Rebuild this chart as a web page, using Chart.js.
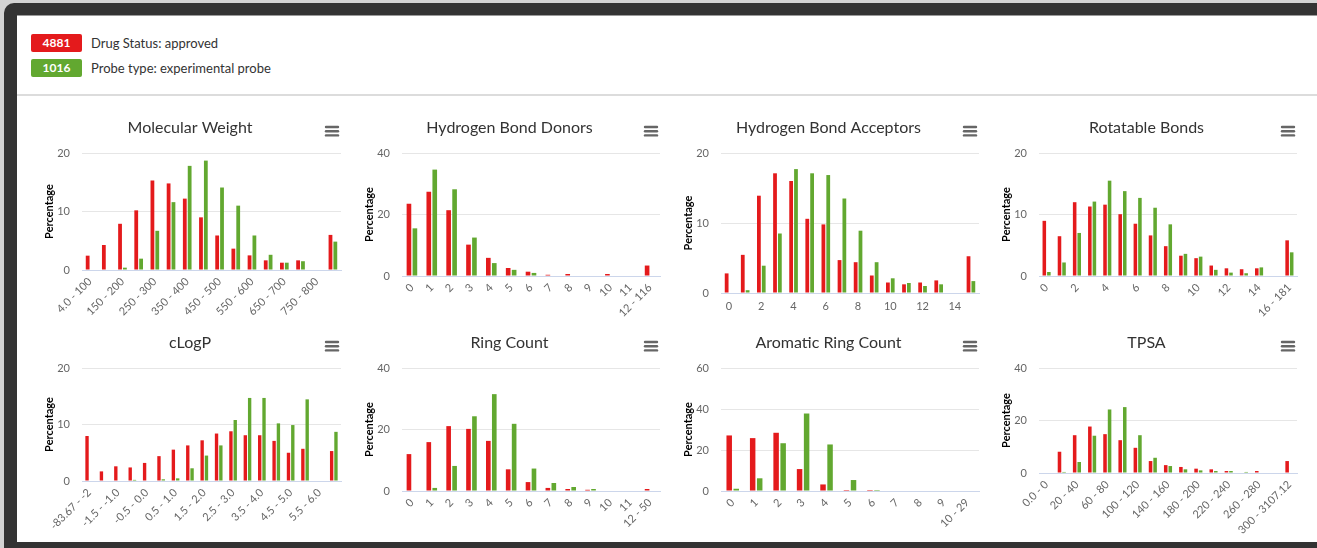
<!DOCTYPE html>
<html>
<head>
<meta charset="utf-8">
<title>Compound property distributions</title>
<script src="https://cdn.jsdelivr.net/npm/chart.js@4.4.0/dist/chart.umd.min.js"></script>
<style>
  html, body { margin: 0; padding: 0; width: 1317px; height: 548px; overflow: hidden; background: #d3d3d3; font-family: Lato, "Noto Sans", sans-serif; }
  #frame { position: absolute; left: 4px; top: 3px; width: 1330px; height: 560px; background: #333; border-radius: 10px 0 0 0; }
  #panel { position: absolute; left: 17px; top: 16px; width: 1300px; height: 526px; background: #fff; }
  #panelEdge { position: absolute; left: 17px; top: 15px; width: 1300px; height: 1px; background: #9a9a9a; }
  .badge { position: absolute; left: 31px; width: 51px; height: 18px; border-radius: 2px; color: #fff; font-size: 12px; font-weight: bold; text-align: center; line-height: 18px; }
  .legendText { position: absolute; left: 91px; font-size: 13px; color: #333; line-height: 18px; white-space: nowrap; }
  #rule { position: absolute; left: 17px; top: 94px; width: 1300px; height: 2px; background: #dcdcdc; }
  .chartBox { position: absolute; }
  .chartBox canvas { display: block; }
</style>
</head>
<body>
<div id="frame"></div>
<div id="panelEdge"></div>
<div id="panel"></div>

<div class="badge" id="badgeApproved" style="top:34px"></div>
<div class="legendText" id="textApproved" style="top:34px"></div>
<div class="badge" id="badgeProbe" style="top:59px"></div>
<div class="legendText" id="textProbe" style="top:59px"></div>
<div id="rule"></div>

<script>
// ---- series ----
const seriesNames = ['Drug Status: approved', 'Probe type: experimental probe'];
const seriesCounts = [4881, 1016];
const seriesColors = ['#e41a1c', '#62a830'];

// ---- Molecular Weight ----
const mwCategories = ['4.0 - 100','100 - 150','150 - 200','200 - 250','250 - 300','300 - 350','350 - 400','400 - 450','450 - 500','500 - 550','550 - 600','600 - 650','650 - 700','700 - 750','750 - 800','800+'];
const mwApproved = [2.45, 4.27, 7.9, 10.2, 15.3, 14.8, 12.2, 9.0, 5.9, 3.65, 2.5, 1.65, 1.25, 1.65, 0, 6.0];
const mwProbe    = [0, 0, 0.4, 1.94, 6.7, 11.6, 17.8, 18.7, 14.1, 11.0, 5.9, 2.6, 1.25, 1.5, 0, 4.85];

// ---- Hydrogen Bond Donors ----
const hbdCategories = ['0','1','2','3','4','5','6','7','8','9','10','11','12 - 116'];
const hbdApproved = [23.5, 27.4, 21.4, 10.2, 5.9, 2.6, 1.4, 0.4, 0.65, 0, 0.65, 0, 3.4];
const hbdProbe    = [15.5, 34.6, 28.2, 12.5, 4.2, 2.0, 1.0, 0, 0, 0, 0, 0, 0];

// ---- Hydrogen Bond Acceptors ----
const hbaCategories = ['0','1','2','3','4','5','6','7','8','9','10','11','12','13','14','15+'];
const hbaApproved = [2.8, 5.45, 13.9, 17.1, 16.0, 10.6, 9.8, 4.7, 4.4, 2.5, 1.5, 1.24, 1.5, 1.8, 0, 5.25];
const hbaProbe    = [0, 0.4, 3.9, 8.5, 17.7, 17.1, 16.85, 13.5, 8.9, 4.4, 2.1, 1.43, 1.0, 1.24, 0, 1.7];

// ---- Rotatable Bonds ----
const rbCategories = ['0','1','2','3','4','5','6','7','8','9','10','11','12','13','14','15','16 - 181'];
const rbApproved = [8.97, 6.47, 12.0, 11.3, 11.6, 10.05, 8.5, 6.6, 4.85, 3.3, 2.9, 1.7, 1.25, 1.1, 1.25, 0, 5.8];
const rbProbe    = [0.65, 2.2, 7.0, 12.1, 15.5, 13.8, 12.7, 11.1, 8.4, 3.6, 3.15, 1.0, 0.55, 0.45, 1.4, 0, 3.85];

// ---- cLogP ----
const clogpCategories = ['-83.67 - -2','-2.0 - -1.5','-1.5 - -1.0','-1.0 - -0.5','-0.5 - 0.0','0.0 - 0.5','0.5 - 1.0','1.0 - 1.5','1.5 - 2.0','2.0 - 2.5','2.5 - 3.0','3.0 - 3.5','3.5 - 4.0','4.0 - 4.5','4.5 - 5.0','5.0 - 5.5','5.5 - 6.0','6.0+'];
const clogpApproved = [7.96, 1.7, 2.6, 2.4, 3.2, 4.4, 5.55, 6.3, 7.2, 8.4, 8.8, 8.1, 8.1, 7.1, 5.0, 5.7, 0, 5.3];
const clogpProbe    = [0, 0, 0, 0.2, 0, 0.3, 0.47, 2.25, 4.5, 6.3, 10.8, 14.7, 14.7, 10.2, 9.9, 14.45, 0, 8.7];

// ---- Ring Count ----
const ringCategories = ['0','1','2','3','4','5','6','7','8','9','10','11','12 - 50'];
const ringApproved = [12.0, 15.9, 21.1, 20.2, 16.3, 7.05, 2.9, 1.0, 0.65, 0.4, 0, 0, 0.65];
const ringProbe    = [0, 1.0, 8.15, 24.3, 31.5, 21.85, 7.3, 2.6, 1.3, 0.65, 0, 0, 0];

// ---- Aromatic Ring Count ----
const aromCategories = ['0','1','2','3','4','5','6','7','8','9','10 - 29'];
const aromApproved = [27.1, 25.8, 28.4, 10.7, 3.2, 0.5, 0.5, 0, 0, 0, 0];
const aromProbe    = [1.1, 6.2, 23.3, 37.8, 22.7, 5.35, 0.5, 0, 0, 0, 0];

// ---- TPSA ----
const tpsaCategories = ['0.0 - 0','0 - 20','20 - 40','40 - 60','60 - 80','80 - 100','100 - 120','120 - 140','140 - 160','160 - 180','180 - 200','200 - 220','220 - 240','240 - 260','260 - 280','280 - 300','300 - 3107.12'];
const tpsaApproved = [0, 8.1, 14.4, 17.7, 14.8, 12.5, 9.6, 4.55, 3.0, 2.3, 1.65, 1.4, 0.75, 0, 0.75, 0, 4.55];
const tpsaProbe    = [0, 0.4, 4.2, 14.2, 24.2, 25.1, 14.4, 5.8, 2.65, 1.4, 1.0, 0.75, 0.75, 0.4, 0, 0, 0];

// ---- legend badges ----
document.getElementById('badgeApproved').textContent = seriesCounts[0];
document.getElementById('badgeApproved').style.background = seriesColors[0];
document.getElementById('textApproved').textContent = seriesNames[0];
document.getElementById('badgeProbe').textContent = seriesCounts[1];
document.getElementById('badgeProbe').style.background = seriesColors[1];
document.getElementById('textProbe').textContent = seriesNames[1];

// ---- panel layout: plot rectangle of each chart (left, right, top, bottom) ----
const panels = [
  { title: 'Molecular Weight',        labels: mwCategories,    a: mwApproved,    p: mwProbe,    max: 20, step: 10, every: 2, rot: 45, box: [82, 341, 153, 270] },
  { title: 'Hydrogen Bond Donors',    labels: hbdCategories,   a: hbdApproved,   p: hbdProbe,   max: 40, step: 20, every: 1, rot: 45, box: [402, 660, 153, 276] },
  { title: 'Hydrogen Bond Acceptors', labels: hbaCategories,   a: hbaApproved,   p: hbaProbe,   max: 20, step: 10, every: 2, rot: 0,  box: [721, 979, 153, 293] },
  { title: 'Rotatable Bonds',         labels: rbCategories,    a: rbApproved,    p: rbProbe,    max: 20, step: 10, every: 2, rot: 45, box: [1039, 1297, 153, 276] },
  { title: 'cLogP',                   labels: clogpCategories, a: clogpApproved, p: clogpProbe, max: 20, step: 10, every: 2, rot: 45, box: [82, 341, 368, 481] },
  { title: 'Ring Count',              labels: ringCategories,  a: ringApproved,  p: ringProbe,  max: 40, step: 20, every: 1, rot: 45, box: [402, 660, 368, 491] },
  { title: 'Aromatic Ring Count',     labels: aromCategories,  a: aromApproved,  p: aromProbe,  max: 60, step: 20, every: 1, rot: 45, box: [721, 979, 368, 491] },
  { title: 'TPSA',                    labels: tpsaCategories,  a: tpsaApproved,  p: tpsaProbe,  max: 40, step: 20, every: 2, rot: 45, box: [1039, 1297, 368, 473] }
];

// hamburger menu drawn in the top-right corner of every chart
const menuIcon = {
  id: 'menuIcon',
  afterDraw(chart) {
    const ctx = chart.ctx;
    const x1 = chart.width - 25, x2 = chart.width - 13;
    ctx.save();
    ctx.strokeStyle = '#666';
    ctx.lineWidth = 2.4;
    ctx.lineCap = 'round';
    [14, 18.2, 22.4].forEach(y => {
      ctx.beginPath();
      ctx.moveTo(x1, y);
      ctx.lineTo(x2, y);
      ctx.stroke();
    });
    ctx.restore();
  }
};

const FONT = 'Lato, "Noto Sans", sans-serif';
const BOX_HEIGHT = 212;
const TITLE_SPACE = 40;
const Y_AXIS_WIDTH = 43;

panels.forEach(cfg => {
  const [pl, pr, pt, pb] = cfg.box;
  const left = pl - Y_AXIS_WIDTH - 10;
  const top = pt - TITLE_SPACE;
  const width = pr + 10 - left;
  const xAxisHeight = top + BOX_HEIGHT - pb;

  const holder = document.createElement('div');
  holder.className = 'chartBox';
  holder.style.left = left + 'px';
  holder.style.top = top + 'px';
  holder.style.width = width + 'px';
  holder.style.height = BOX_HEIGHT + 'px';
  const canvas = document.createElement('canvas');
  canvas.width = width;
  canvas.height = BOX_HEIGHT;
  holder.appendChild(canvas);
  document.body.appendChild(holder);

  new Chart(canvas, {
    type: 'bar',
    data: {
      labels: cfg.labels,
      datasets: [
        { label: seriesNames[0], data: cfg.a, backgroundColor: seriesColors[0] },
        { label: seriesNames[1], data: cfg.p, backgroundColor: seriesColors[1] }
      ]
    },
    options: {
      responsive: false,
      animation: false,
      events: [],
      devicePixelRatio: 1,
      layout: { padding: { left: 10, right: 10, top: 0, bottom: 0 } },
      datasets: { bar: { categoryPercentage: 0.6, barPercentage: 0.78 } },
      plugins: {
        legend: { display: false },
        tooltip: { enabled: false },
        title: {
          display: true,
          text: cfg.title,
          color: '#333',
          font: { family: FONT, size: 16, weight: 'normal', lineHeight: 1.2 },
          padding: { top: 5, bottom: 15.8 }
        }
      },
      scales: {
        x: {
          grid: { display: false, drawTicks: false },
          border: { display: true, color: '#ccd6eb', width: 1 },
          ticks: {
            autoSkip: false,
            minRotation: cfg.rot,
            maxRotation: cfg.rot,
            padding: cfg.rot ? 5 : 7,
            color: '#666',
            font: { family: FONT, size: 11 },
            callback(value, index) {
              return index % cfg.every === 0 ? this.getLabelForValue(value) : '';
            }
          },
          afterFit(scale) { scale.height = xAxisHeight; }
        },
        y: {
          min: 0,
          max: cfg.max,
          grid: { color: '#e6e6e6', drawTicks: false },
          border: { display: false },
          ticks: { stepSize: cfg.step, padding: 12, color: '#666', font: { family: FONT, size: 11 } },
          title: {
            display: true,
            text: 'Percentage',
            color: '#000',
            font: { family: FONT, size: 11, weight: 'bold', lineHeight: 1.2 },
            padding: { top: 3.4, bottom: 0 }
          },
          afterFit(scale) { scale.width = Y_AXIS_WIDTH; }
        }
      }
    },
    plugins: [menuIcon]
  });
});
</script>
</body>
</html>
